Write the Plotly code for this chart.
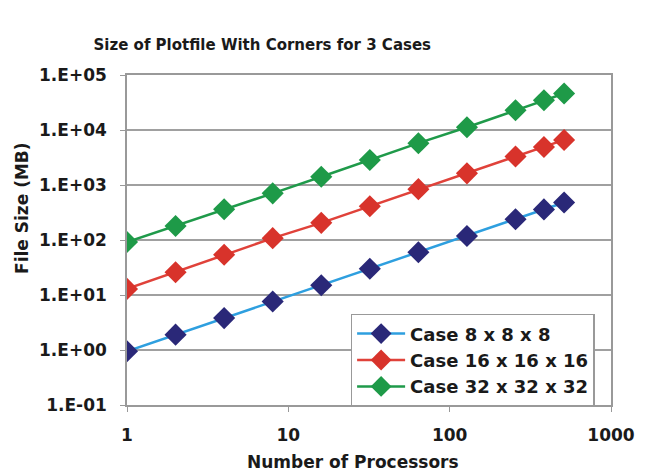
import plotly.graph_objects as go

processors = [1, 2, 4, 8, 16, 32, 64, 128, 256, 384, 512]
case8 = [0.95, 1.9, 3.8, 7.6, 15, 30, 60, 118, 238, 360, 480]
case16 = [12.9, 26, 54, 108, 205, 410, 840, 1630, 3300, 4900, 6600]
case32 = [92, 180, 363, 705, 1410, 2850, 5760, 11200, 22800, 34700, 46000]
series_names = ["Case 8 x 8 x 8", "Case 16 x 16 x 16", "Case 32 x 32 x 32"]
y_tickvals = [0.1, 1, 10, 100, 1000, 10000, 100000]
y_ticktext = ["1.E-01", "1.E+00", "1.E+01", "1.E+02", "1.E+03", "1.E+04", "1.E+05"]
x_tickvals = [1, 10, 100, 1000]
x_ticktext = ["1", "10", "100", "1000"]

styles = [
    dict(line="#2E9FDF", marker="#2A2878"),
    dict(line="#E0423A", marker="#D8332B"),
    dict(line="#1F9A4A", marker="#1E9A48"),
]

fig = go.Figure()
for name, vals, st in zip(series_names, [case8, case16, case32], styles):
    fig.add_trace(go.Scatter(
        x=processors, y=vals, name=name, mode="lines+markers",
        line=dict(color=st["line"], width=2.5),
        marker=dict(symbol="diamond", size=17, color=st["marker"]),
    ))

font_family = "DejaVu Sans"
fig.update_layout(
    width=647, height=465,
    margin=dict(l=119, r=44, t=67, b=68, autoexpand=False),
    paper_bgcolor="white", plot_bgcolor="white",
    font=dict(family=font_family, color="#1a1a1a"),
    title=dict(text="<b>Size of Plotfile With Corners for 3 Cases</b>",
               x=0.393, xanchor="center", y=0.92, yanchor="middle",
               font=dict(size=15, family=font_family, color="#1a1a1a")),
    showlegend=True,
    legend=dict(x=0.462, y=0.276, xanchor="left", yanchor="top",
                bgcolor="white", bordercolor="#999999", borderwidth=1.5,
                font=dict(size=18, family=font_family, color="#1a1a1a", weight="bold"),
                tracegroupgap=0, itemwidth=48),
    annotations=[
        dict(text="<b>Number of Processors</b>", xref="paper", yref="paper",
             x=0.467, y=-0.173, xanchor="center", yanchor="middle",
             showarrow=False, font=dict(size=17, color="#1a1a1a")),
        dict(text="<b>File Size (MB)</b>", xref="paper", yref="paper",
             x=-0.217, y=0.597, xanchor="center", yanchor="middle", textangle=-90,
             showarrow=False, font=dict(size=17, color="#1a1a1a")),
    ],
)
fig.update_xaxes(
    type="log", range=[0, 3],
    tickvals=x_tickvals, ticktext=x_ticktext,
    tickfont=dict(size=17, weight="bold"),
    showgrid=False, showline=True, linecolor="#999999", linewidth=1.5, mirror=True,
    ticks="outside", ticklen=5, tickcolor="#999999", ticklabelstandoff=9,
    zeroline=False,
)
fig.update_yaxes(
    type="log", range=[-1, 5],
    tickvals=y_tickvals, ticktext=y_ticktext,
    tickfont=dict(size=17, weight="bold"),
    showgrid=True, gridcolor="#a0a0a0", gridwidth=1.5,
    showline=True, linecolor="#999999", linewidth=1.5, mirror=True,
    ticks="outside", ticklen=5, tickcolor="#999999", ticklabelstandoff=10,
    zeroline=False,
)

fig.write_html("out.html")
